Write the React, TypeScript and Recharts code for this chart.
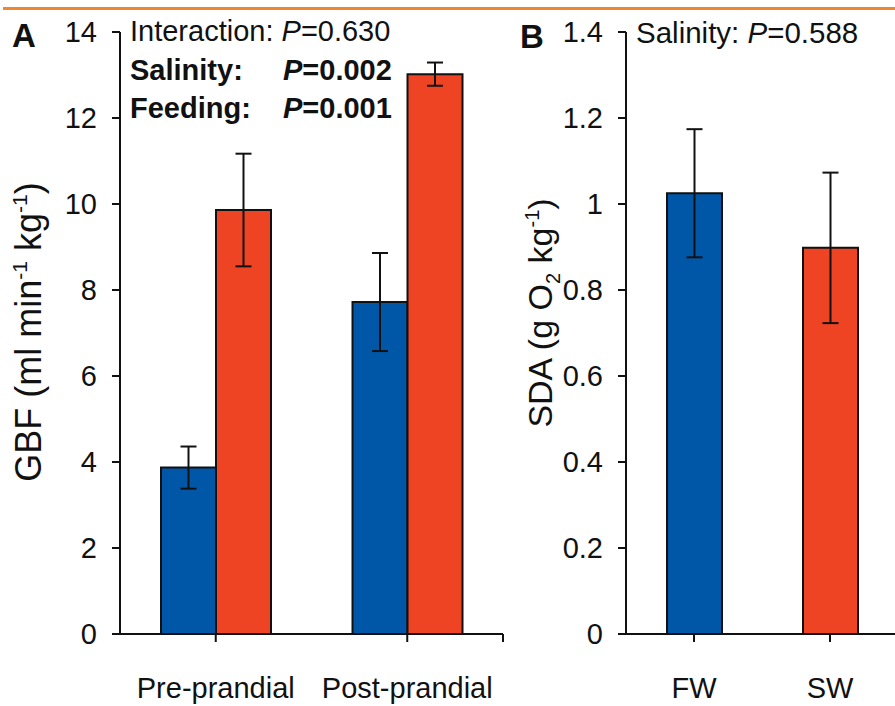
import React from 'react';
import { BarChart, Bar, XAxis, YAxis, ErrorBar, Cell } from 'recharts';

// panel A: gastric blood flow
const gbfCategories = ['Pre-prandial', 'Post-prandial'];
const gbfFW = [3.87, 7.72];
const gbfFWErr = [0.49, 1.14];
const gbfSW = [9.86, 13.02];
const gbfSWErr = [1.31, 0.27];
const gbfTicks = [0, 2, 4, 6, 8, 10, 12, 14];

// panel B: specific dynamic action
const sdaCategories = ['FW', 'SW'];
const sdaValues = [1.025, 0.898];
const sdaErr = [0.149, 0.175];
const sdaTicks = [0, 0.2, 0.4, 0.6, 0.8, 1, 1.2, 1.4];

const BLUE = '#0057a8';
const RED = '#ee4423';
const INK = '#111';
const FONT = '"Liberation Sans", Arial, sans-serif';

const gbfData = gbfCategories.map((c, i) => ({
  name: c,
  fw: gbfFW[i],
  fwErr: gbfFWErr[i],
  sw: gbfSW[i],
  swErr: gbfSWErr[i],
}));

const sdaData = sdaCategories.map((c, i) => ({
  name: c,
  value: sdaValues[i],
  err: sdaErr[i],
}));

const tickStyle = { fill: INK, fontSize: 29, fontFamily: FONT };
const axisLine = { stroke: INK, strokeWidth: 2 };
const tickLine = { stroke: INK, strokeWidth: 2 };

export default function App() {
  return (
    <div
      style={{
        position: 'absolute',
        left: 0,
        top: 0,
        width: 895,
        height: 706,
        overflow: 'hidden',
        background: '#fff',
        fontFamily: FONT,
      }}
    >
      <div style={{ position: 'absolute', left: 3, top: 7, width: 892, height: 3, background: '#f0862e' }} />

      <div style={{ position: 'absolute', left: 0, top: 0 }}>
        <BarChart
          width={510}
          height={706}
          data={gbfData}
          margin={{ top: 32, right: 7, bottom: 0, left: 0 }}
          barGap={0}
          barSize={55}
        >
          <XAxis
            dataKey="name"
            height={72}
            axisLine={axisLine}
            tickLine={tickLine}
            tickSize={8}
            tickMargin={35}
            tick={tickStyle}
            interval={0}
          />
          <YAxis
            width={120}
            domain={[0, 14]}
            ticks={gbfTicks}
            axisLine={axisLine}
            tickLine={tickLine}
            tickSize={8}
            tickMargin={15}
            tick={tickStyle}
            interval={0}
          />
          <Bar dataKey="fw" fill={BLUE} stroke={INK} strokeWidth={2} isAnimationActive={false}>
            <ErrorBar dataKey="fwErr" width={8} stroke={INK} strokeWidth={2} />
          </Bar>
          <Bar dataKey="sw" fill={RED} stroke={INK} strokeWidth={2} isAnimationActive={false}>
            <ErrorBar dataKey="swErr" width={8} stroke={INK} strokeWidth={2} />
          </Bar>
        </BarChart>
      </div>
      {/* closing tick at the right end of panel A's x axis */}
      <div style={{ position: 'absolute', left: 502, top: 634, width: 2, height: 8, background: INK }} />

      <div style={{ position: 'absolute', left: 510, top: 0 }}>
        <BarChart
          width={390}
          height={706}
          data={sdaData}
          margin={{ top: 32, right: 2, bottom: 0, left: 0 }}
          barSize={55}
        >
          <XAxis
            dataKey="name"
            height={72}
            axisLine={axisLine}
            tickLine={tickLine}
            tickSize={8}
            tickMargin={35}
            tick={tickStyle}
            interval={0}
          />
          <YAxis
            width={116}
            domain={[0, 1.4]}
            ticks={sdaTicks}
            axisLine={axisLine}
            tickLine={tickLine}
            tickSize={8}
            tickMargin={15}
            tick={tickStyle}
            interval={0}
          />
          <Bar dataKey="value" stroke={INK} strokeWidth={2} isAnimationActive={false}>
            {sdaData.map((d, i) => (
              <Cell key={d.name} fill={i === 0 ? BLUE : RED} />
            ))}
            <ErrorBar dataKey="err" width={8} stroke={INK} strokeWidth={2} />
          </Bar>
        </BarChart>
      </div>

      <svg
        width={895}
        height={706}
        style={{ position: 'absolute', left: 0, top: 0, pointerEvents: 'none' }}
        fontFamily={FONT}
        fill={INK}
      >
        <text x={12} y={47} fontSize={33} fontWeight="bold">A</text>
        <text x={520} y={48} fontSize={33} fontWeight="bold">B</text>

        <text x={130} y={41} fontSize={29}>
          Interaction: <tspan fontStyle="italic">P</tspan>=0.630
        </text>
        <text x={130} y={80} fontSize={29} fontWeight="bold">Salinity:</text>
        <text x={283} y={80} fontSize={29} fontWeight="bold">
          <tspan fontStyle="italic">P</tspan>=0.002
        </text>
        <text x={130} y={118} fontSize={29} fontWeight="bold">Feeding:</text>
        <text x={283} y={118} fontSize={29} fontWeight="bold">
          <tspan fontStyle="italic">P</tspan>=0.001
        </text>

        <text x={636} y={43} fontSize={29.5}>
          Salinity: <tspan fontStyle="italic">P</tspan>=0.588
        </text>

        <text x={41} y={332} fontSize={36} textAnchor="middle" transform="rotate(-90 41 332)">
          GBF (ml min<tspan fontSize={21} dy={-14}>-1</tspan>
          <tspan dy={14}> kg</tspan>
          <tspan fontSize={21} dy={-14}>-1</tspan>
          <tspan dy={14}>)</tspan>
        </text>
        <text x={552} y={313} fontSize={34} textAnchor="middle" transform="rotate(-90 552 313)">
          SDA (g O<tspan fontSize={20} dy={8}>2</tspan>
          <tspan dy={-8}> kg</tspan>
          <tspan fontSize={20} dy={-13}>-1</tspan>
          <tspan dy={13}>)</tspan>
        </text>
      </svg>
    </div>
  );
}
